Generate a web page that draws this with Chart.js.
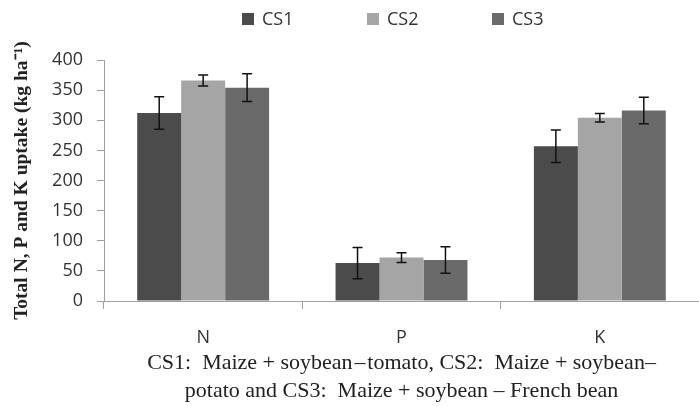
<!DOCTYPE html>
<html>
<head>
<meta charset="utf-8">
<script src="https://cdn.jsdelivr.net/npm/chart.js@4"></script>
<style>
  html, body { margin: 0; padding: 0; background: #fff; overflow: hidden; }
  #wrap { width: 699px; height: 406px; }
</style>
</head>
<body>
<div id="wrap"><canvas id="uptake-chart" width="699" height="406"></canvas></div>
<script>
// Nutrient uptake by cropping system

const nutrients = ["N", "P", "K"];
const systems = ["CS1", "CS2", "CS3"];

const cs1Values = [312, 63, 257];
const cs2Values = [366, 72, 304];
const cs3Values = [354, 68, 316];

const cs1Errors = [27, 26, 27];
const cs2Errors = [9, 8, 7];
const cs3Errors = [23, 22, 22];

const yTicks = [0, 50, 100, 150, 200, 250, 300, 350, 400];

const barColors = ["#4b4b4b", "#a5a5a5", "#6a6a6a"];

// ===== Plugins =====

// error bars from the errors array on each dataset
const errorBarPlugin = {
  id: "errorBars",
  afterDatasetsDraw(chart) {
    const ctx = chart.ctx;
    const yScale = chart.scales.y;
    ctx.save();
    ctx.strokeStyle = "#111";
    ctx.lineWidth = 1.5;
    chart.data.datasets.forEach((ds, i) => {
      const meta = chart.getDatasetMeta(i);
      meta.data.forEach((bar, j) => {
        const v = ds.data[j];
        const e = ds.errors[j];
        const yHi = yScale.getPixelForValue(v + e);
        const yLo = yScale.getPixelForValue(v - e);
        const x = bar.x;
        const cap = 5;
        ctx.beginPath();
        ctx.moveTo(x, yHi);
        ctx.lineTo(x, yLo);
        ctx.moveTo(x - cap, yHi);
        ctx.lineTo(x + cap, yHi);
        ctx.moveTo(x - cap, yLo);
        ctx.lineTo(x + cap, yLo);
        ctx.stroke();
      });
    });
    ctx.restore();
  },
};

// legend row above the plot
const topLegendPlugin = {
  id: "topLegend",
  afterDraw(chart) {
    const ctx = chart.ctx;
    const startX = chart.chartArea.left + 138;
    const step = 125;
    const y = 19;
    ctx.save();
    ctx.font = "18px 'Open Sans'";
    ctx.textBaseline = "middle";
    ctx.textAlign = "left";
    chart.data.datasets.forEach((ds, i) => {
      const x = startX + i * step;
      ctx.fillStyle = ds.backgroundColor;
      ctx.fillRect(x, y - 6, 12, 12);
      ctx.fillStyle = "#333";
      ctx.fillText(ds.label, x + 20, y + 1);
    });
    ctx.restore();
  },
};

new Chart(document.getElementById("uptake-chart"), {
  type: "bar",
  data: {
    labels: nutrients,
    datasets: [
      { label: systems[0], data: cs1Values, errors: cs1Errors, backgroundColor: barColors[0] },
      { label: systems[1], data: cs2Values, errors: cs2Errors, backgroundColor: barColors[1] },
      { label: systems[2], data: cs3Values, errors: cs3Errors, backgroundColor: barColors[2] },
    ],
  },
  options: {
    responsive: false,
    animation: false,
    layout: { padding: { top: 60, right: -11, left: 0, bottom: 0 } },
    datasets: {
      bar: { categoryPercentage: 0.665, barPercentage: 1.0 },
    },
    plugins: {
      legend: { display: false },
      tooltip: { enabled: false },
    },
    scales: {
      y: {
        min: 0,
        max: 400,
        afterFit(scale) { scale.width = 104; },
        afterBuildTicks(scale) { scale.ticks = yTicks.map((v) => ({ value: v })); },
        border: { color: "#a0a0a0", width: 1 },
        grid: { drawOnChartArea: false, color: "#a0a0a0", tickLength: 7 },
        ticks: { color: "#333", font: { family: "Open Sans", size: 18 }, padding: 14 },
        title: {
          display: true,
          text: "Total N, P and K uptake (kg ha\u207B\u00B9)",
          color: "#222",
          font: { family: "Liberation Serif", size: 19.5, weight: "bold" },
          padding: { top: 10, bottom: 0 },
        },
      },
      x: {
        afterFit(scale) { scale.height = 105; },
        border: { color: "#a0a0a0", width: 1 },
        grid: { drawOnChartArea: false, color: "#a0a0a0", tickLength: 8, offset: true },
        ticks: { color: "#333", font: { family: "Open Sans", size: 18 }, padding: 18 },
        title: {
          display: true,
          text: [
            "CS1:  Maize + soybean\u200A\u2013\u200Atomato, CS2:  Maize + soybean\u2013",
            "potato and CS3:  Maize + soybean \u2013 French bean",
          ],
          color: "#222",
          font: { family: "Liberation Serif", size: 22, lineHeight: 1.273 },
          padding: { top: 1, bottom: 1 },
        },
      },
    },
  },
  plugins: [errorBarPlugin, topLegendPlugin],
});
</script>
</body>
</html>
